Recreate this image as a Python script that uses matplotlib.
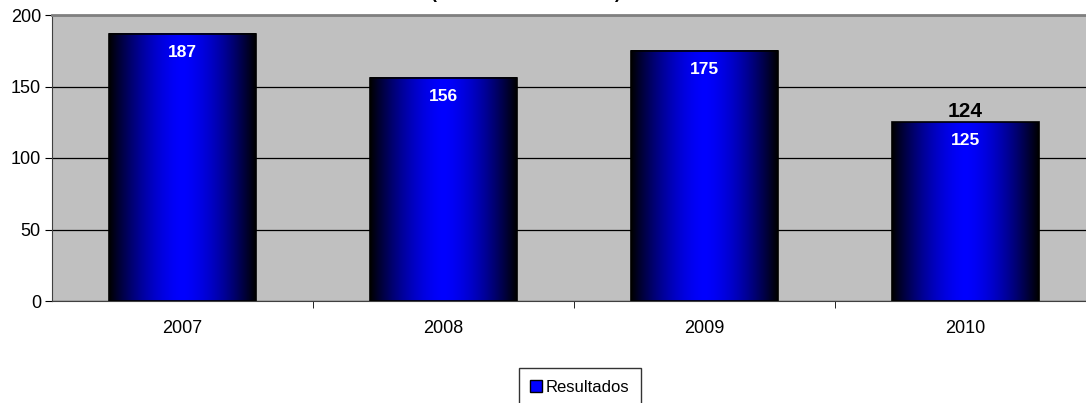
import matplotlib.pyplot as plt
import numpy as np
from matplotlib.patches import Rectangle

plt.rcParams['font.family'] = ['Liberation Sans', 'DejaVu Sans']

years = ["2007", "2008", "2009", "2010"]
resultados = [187, 156, 175, 125]
value_labels = ["187", "156", "175", "125"]
extra_label = "124"   # printed above the 2010 bar in the original

fig = plt.figure(figsize=(10.86, 4.03), dpi=100)
ax = fig.add_axes([52 / 1086, 102 / 403, 1044 / 1086, 286 / 403])
ax.set_facecolor("#c0c0c0")

x = np.arange(len(years))
bar_w = 0.56

# horizontal gradient: black edges, bright blue middle
t = np.linspace(-1, 1, 256)
shade = 1 - np.abs(t) ** 1.6
grad = np.zeros((1, 256, 3))
grad[0, :, 2] = shade

for xi, v, lab in zip(x, resultados, value_labels):
    l, r = xi - bar_w / 2, xi + bar_w / 2
    ax.imshow(grad, extent=[l, r, 0, v], aspect="auto", zorder=3,
              interpolation="bilinear")
    ax.add_patch(Rectangle((l, 0), bar_w, v, fill=False, edgecolor="black",
                           linewidth=1.2, zorder=4))
    ax.text(xi, v - 13, lab, color="white", fontsize=12.5, fontweight="bold",
            ha="center", va="center", zorder=5)

ax.text(x[-1], resultados[-1] + 7.5, extra_label, color="black", fontsize=15,
        fontweight="bold", ha="center", va="center", zorder=5)

ax.set_xlim(-0.5, len(years) - 0.5)
ax.set_ylim(0, 200)
ax.set_yticks([0, 50, 100, 150, 200])
ax.yaxis.grid(True, color="black", linewidth=0.9)
ax.set_axisbelow(True)

# category labels centred, ticks on category boundaries
ax.set_xticks(x)
ax.set_xticklabels(years)
ax.set_xticks(np.arange(0.5, len(years) - 0.5), minor=True)
ax.tick_params(axis="x", which="major", length=0, pad=14, labelsize=13)
ax.tick_params(axis="x", which="minor", length=5, direction="out")
ax.tick_params(axis="y", length=5, direction="out", labelsize=13, pad=3)

for side in ["left", "bottom"]:
    ax.spines[side].set_color("#404040")
ax.spines["top"].set_color("#808080")
ax.spines["top"].set_linewidth(2)
ax.spines["right"].set_visible(False)

# partially visible title parentheses cut by the top edge
fig.text(433 / 1086, 1 + 2.5 / 403, "(", fontsize=13, fontweight="bold", ha="center", va="baseline")
fig.text(617 / 1086, 1 + 2.5 / 403, ")", fontsize=13, fontweight="bold", ha="center", va="baseline")

handle = Rectangle((0, 0), 1, 1, facecolor="#0000ff", edgecolor="black", linewidth=1)
fig.legend([handle], ["Resultados"], loc="upper center",
           bbox_to_anchor=(580 / 1086, 1 - 368 / 403), frameon=True,
           fancybox=False, edgecolor="black", fontsize=12,
           handlelength=0.7, handleheight=0.7, handletextpad=0.25,
           borderpad=0.7, borderaxespad=0)

fig.savefig("out.png", dpi=100)
